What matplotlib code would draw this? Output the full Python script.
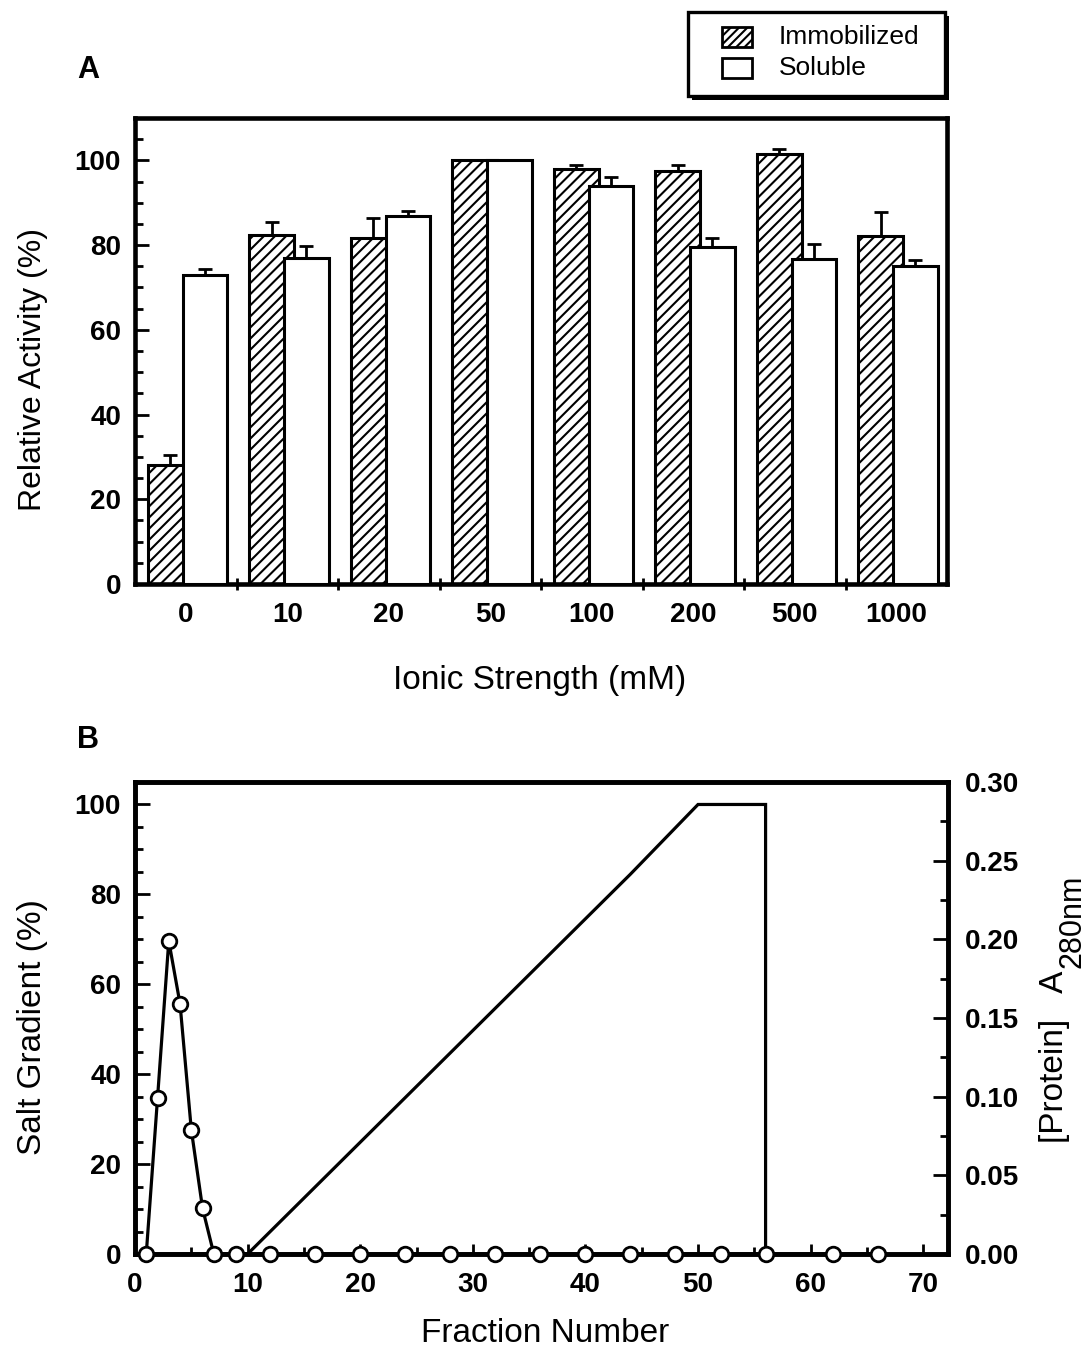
import matplotlib
matplotlib.use("Agg")
import matplotlib.pyplot as plt
import numpy as np
from matplotlib.patches import Rectangle
from matplotlib.ticker import MultipleLocator, FixedLocator, FormatStrFormatter

plt.rcParams['font.family'] = ['Liberation Sans', 'DejaVu Sans']
plt.rcParams['hatch.linewidth'] = 1.5

# ---- Panel A: relative activity vs ionic strength ----
ionic_labels = ['0', '10', '20', '50', '100', '200', '500', '1000']
immobilized = [28.0, 82.3, 81.7, 100.0, 98.0, 97.5, 101.5, 82.2]
immobilized_err = [2.5, 3.2, 4.8, 0.0, 0.9, 1.4, 1.3, 5.5]
soluble = [73.0, 77.0, 86.8, 100.0, 94.0, 79.6, 76.7, 75.1]
soluble_err = [1.4, 2.9, 1.3, 0.0, 2.0, 2.0, 3.5, 1.4]
series_names = ['Immobilized', 'Soluble']

# ---- Panel B: elution profile ----
fractions = [1, 2, 3, 4, 5, 6, 7, 9, 12, 16, 20, 24, 28, 32, 36, 40, 44, 48,
             52, 56, 62, 66]
protein_a280 = [0.0, 0.099, 0.199, 0.159, 0.079, 0.029, 0.0, 0.0, 0.0, 0.0,
                0.0, 0.0, 0.0, 0.0, 0.0, 0.0, 0.0, 0.0, 0.0, 0.0, 0.0, 0.0]
salt_fraction = [1, 10, 44, 50, 56, 56]
salt_percent = [0, 0, 84.5, 100, 100, 0]

W, H = 1088, 1360
fig = plt.figure(figsize=(W / 100, H / 100), dpi=100)


def fx(px):
    return px / W


def fy(py):
    return 1 - py / H


SPINE_LW = 3.3
TICK_FS = 20
LABEL_FS = 24
BAR_STYLES = [dict(hatch='///'), dict()]

# ---------------- Panel A ----------------
axA = fig.add_axes([fx(135), fy(584), fx(947) - fx(135), fy(118) - fy(584)])
x = np.arange(len(ionic_labels))
bw = 0.443
offsets = [0.125, 0.468]

for k, (vals, errs) in enumerate(((immobilized, immobilized_err),
                                  (soluble, soluble_err))):
    axA.bar(x + offsets[k], vals, width=bw, align='edge', facecolor='white',
            edgecolor='black', linewidth=2.2, zorder=2 + k, **BAR_STYLES[k])
    xs = [xi + offsets[k] + bw / 2 for xi, e in zip(x, errs) if e > 0]
    ys = [v for v, e in zip(vals, errs) if e > 0]
    es = [e for e in errs if e > 0]
    axA.errorbar(xs, ys, yerr=[np.zeros(len(es)), es], fmt='none',
                 ecolor='black', elinewidth=2.0, capsize=4.8, capthick=2.0,
                 zorder=4)

axA.set_xlim(0, len(ionic_labels))
axA.set_ylim(0, 110)
axA.xaxis.set_major_locator(FixedLocator(x + 0.5))
axA.set_xticklabels(ionic_labels)
axA.xaxis.set_minor_locator(FixedLocator(np.arange(1, len(ionic_labels))))
axA.tick_params(axis='x', which='major', length=0, pad=13, labelsize=TICK_FS)
axA.tick_params(axis='x', which='minor', direction='inout', length=8, width=2)
axA.yaxis.set_major_locator(MultipleLocator(20))
axA.yaxis.set_minor_locator(MultipleLocator(5))
axA.tick_params(axis='y', which='major', direction='in', length=10, width=2,
                pad=10, labelsize=TICK_FS)
axA.tick_params(axis='y', which='minor', direction='in', length=6, width=2)
for lab in axA.get_xticklabels() + axA.get_yticklabels():
    lab.set_fontweight('bold')
for sp in axA.spines.values():
    sp.set_linewidth(SPINE_LW)

# Key box above the bar panel (shadowed frame, two swatches)
bx0, by0, bx1, by1 = 688, 12, 945, 96
fig.patches.append(Rectangle((fx(bx0 + 4), fy(by1 + 4)), fx(bx1 - bx0),
                             fy(by0) - fy(by1), transform=fig.transFigure,
                             facecolor='black', edgecolor='black', lw=0))
fig.patches.append(Rectangle((fx(bx0), fy(by1)), fx(bx1 - bx0),
                             fy(by0) - fy(by1), transform=fig.transFigure,
                             facecolor='white', edgecolor='black', lw=2.4))
for k, name in enumerate(series_names):
    top = 27 + 31 * k
    fig.patches.append(Rectangle((fx(722), fy(top + 20)), fx(30),
                                 fy(top) - fy(top + 20),
                                 transform=fig.transFigure, facecolor='white',
                                 edgecolor='black', lw=2.0,
                                 **(dict(hatch='////') if k == 0 else {})))
    fig.text(fx(779), fy(top + 10), name, fontsize=19, ha='left',
             va='center')

fig.text(fx(88), fy(70), 'A', fontsize=22, fontweight='bold',
         ha='center', va='center')
fig.text(fx(33), fy(370), 'Relative Activity (%)', fontsize=23,
         rotation=90, ha='center', va='center')
fig.text(fx(540), fy(680), 'Ionic Strength (mM)', fontsize=LABEL_FS,
         ha='center', va='center')

# ---------------- Panel B ----------------
axB = fig.add_axes([fx(135), fy(1254), fx(948) - fx(135),
                    fy(782) - fy(1254)])
axR = axB.twinx()

axB.plot(salt_fraction, salt_percent, color='black', linewidth=2.3,
         solid_joinstyle='miter', zorder=2)
axR.plot(fractions, protein_a280, color='black', linewidth=2.3,
         marker='o', markersize=10.5, markerfacecolor='white',
         markeredgecolor='black', markeredgewidth=2.0, zorder=3,
         clip_on=False)

axB.set_xlim(0, 72.2)
axB.set_ylim(0, 105)
axR.set_ylim(0, 0.30)

axB.xaxis.set_major_locator(MultipleLocator(10))
axB.xaxis.set_minor_locator(MultipleLocator(5))
axB.tick_params(axis='x', which='major', direction='in', length=7, width=2,
                pad=13, labelsize=TICK_FS)
axB.tick_params(axis='x', which='minor', direction='in', length=5, width=2)
axB.yaxis.set_major_locator(MultipleLocator(20))
axB.yaxis.set_minor_locator(MultipleLocator(5))
axB.tick_params(axis='y', which='major', direction='in', length=11, width=2,
                pad=10, labelsize=TICK_FS)
axB.tick_params(axis='y', which='minor', direction='in', length=6, width=2)

axR.yaxis.set_major_locator(MultipleLocator(0.05))
axR.yaxis.set_minor_locator(MultipleLocator(0.025))
axR.yaxis.set_major_formatter(FormatStrFormatter('%.2f'))
axR.tick_params(axis='y', which='major', direction='in', length=11, width=2,
                pad=12, labelsize=TICK_FS)
axR.tick_params(axis='y', which='minor', direction='in', length=6, width=2)

for lab in (axB.get_xticklabels() + axB.get_yticklabels()
            + axR.get_yticklabels()):
    lab.set_fontweight('bold')
for a in (axB, axR):
    for sp in a.spines.values():
        sp.set_linewidth(SPINE_LW)

fig.text(fx(88), fy(740), 'B', fontsize=22, fontweight='bold',
         ha='center', va='center')
fig.text(fx(33), fy(1027), 'Salt Gradient (%)', fontsize=LABEL_FS,
         rotation=90, ha='center', va='center')
# right-hand axis title: "[Protein]  A" with a large "280nm" subscript
fig.text(fx(1055), fy(1057), '[Protein]   A', fontsize=LABEL_FS,
         rotation=90, ha='center', va='center')
fig.text(fx(1072), fy(921), '280nm', fontsize=22,
         rotation=90, ha='center', va='center')
fig.text(fx(545), fy(1333), 'Fraction Number', fontsize=LABEL_FS,
         ha='center', va='center')

fig.savefig('out.png', dpi=100)
